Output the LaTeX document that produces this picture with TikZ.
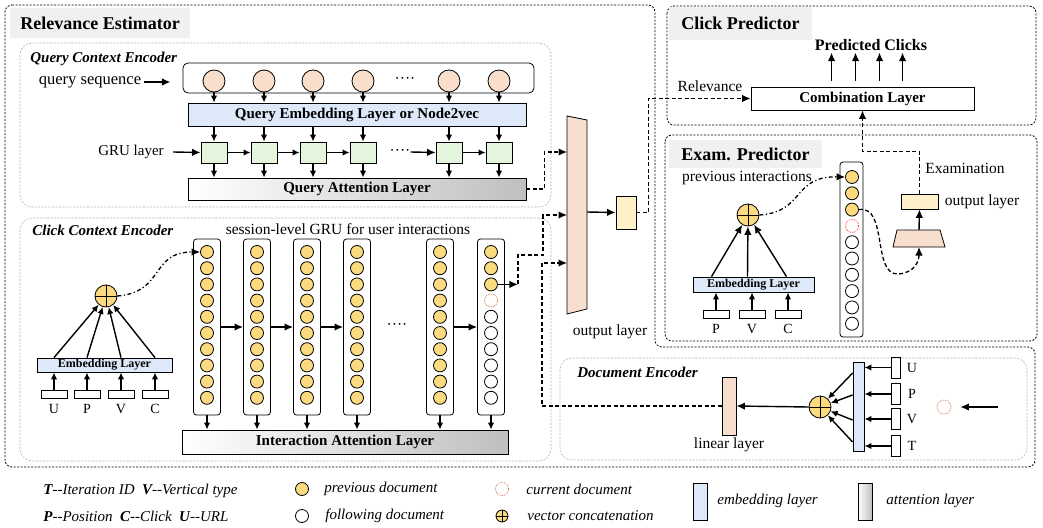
\documentclass[tikz,border=0pt]{standalone}
\usepackage{fontspec}
\setmainfont{Liberation Serif}
\usetikzlibrary{arrows.meta}
\definecolor{qpeach}{RGB}{250,222,204}
\definecolor{embblue}{RGB}{221,233,248}
\definecolor{grugreen}{RGB}{228,246,222}
\definecolor{docyellow}{RGB}{252,218,128}
\definecolor{outpeach}{RGB}{248,222,206}
\definecolor{outyellow}{RGB}{254,240,200}
\definecolor{titlegray}{RGB}{240,240,240}
\definecolor{curorange}{RGB}{205,120,80}
\newcommand{\fsz}[1]{\fontsize{#1}{#1}\selectfont}
\tikzset{
  panel/.style={draw, dash pattern=on 2pt off 1.5pt, line width=0.8pt, rounded corners=7pt},
  encbox/.style={draw=gray!60, dash pattern=on 2pt off 1.5pt, line width=0.6pt, rounded corners=12pt},
  paneltitle/.style={fill=titlegray, anchor=west, inner xsep=10pt, inner ysep=0pt, font=\bfseries\fsz{18}},
  enctitle/.style={anchor=west, inner sep=0pt, font=\bfseries\itshape\fsz{15}},
  lbl/.style={inner sep=0pt, font=\fsz{15.5}},
  layerbar/.style={draw, inner sep=0pt, font=\bfseries\fsz{15}},
  embbar/.style={layerbar, fill=embblue},
  attbar/.style={layerbar, left color=white, right color=gray!50},
  qcirc/.style={circle, draw, fill=qpeach, minimum size=22pt, inner sep=0pt},
  grucell/.style={draw, fill=grugreen, minimum width=26pt, minimum height=21pt, inner sep=0pt},
  colbox/.style={draw, rounded corners=3pt, inner sep=0pt},
  prevdoc/.style={circle, draw, fill=docyellow, minimum size=13pt, inner sep=0pt},
  nextdoc/.style={circle, draw, fill=white, minimum size=13pt, inner sep=0pt},
  curdoc/.style={circle, draw=curorange, densely dotted, minimum size=13pt, inner sep=0pt},
  curdocred/.style={curdoc, draw=red!75},
  concat/.style={circle, draw, fill=docyellow, minimum size=22pt, inner sep=0pt,
    path picture={\draw (path picture bounding box.north) -- (path picture bounding box.south)
      (path picture bounding box.west) -- (path picture bounding box.east);}},
  featbox/.style={draw, minimum width=26pt, minimum height=8pt, inner sep=0pt},
  short/.style={->, >={Latex[length=7pt,width=6.5pt]}},
  dasharrow/.style={->, dash pattern=on 4pt off 2.5pt, line width=1.3pt},
  dotdash/.style={->, dash pattern=on 4pt off 2.5pt on 1.2pt off 2.5pt, line width=1.3pt},
  every node/.append style={line width=0.8pt},
}
\begin{document}
\begin{tikzpicture}[x=1pt, y=-1pt, line width=1.4pt, >={Latex[length=8.5pt,width=7.5pt]}]
\useasboundingbox (0,0) rectangle (1043,527);

% panels
\draw[panel] (5,5) -- (655,5) -- (655,347) -- (1035,347) -- (1035,467) -- (5,467) -- cycle;
\draw[panel] (667,6) rectangle (1036,125);
\draw[panel] (665,135) rectangle (1037,341);
\draw[encbox] (20,43) rectangle (551,207);
\draw[encbox] (20,218) rectangle (551,461);
\draw[encbox] (560,358) rectangle (1027,460);

\node[paneltitle, minimum height=30pt] (retitle) at (10,23) {Relevance Estimator};
\node[paneltitle, minimum height=33pt, inner xsep=12pt] (cptitle) at (669,23.5) {Click Predictor};
\node[paneltitle, minimum height=28pt, inner xsep=12pt] (eptitle) at (669,154) {Exam. Predictor};
\node[enctitle] (qcetitle) at (30,59) {Query Context Encoder};
\node[enctitle] (ccetitle) at (32,230) {Click Context Encoder};
\node[enctitle] (detitle) at (577,372) {Document Encoder};

% query context encoder
\node[draw, rounded corners=5pt, minimum width=351pt, minimum height=30pt] (qseqbox) at (358.5,78) {};
\node[embbar, minimum width=338pt, minimum height=23pt] (qemb) at (357,114.5) {Query Embedding Layer or Node2vec};
\node[attbar, minimum width=338pt, minimum height=22pt] (qatt) at (357,189) {Query Attention Layer};
\foreach \i/\x in {1/214,2/264,3/313,4/363,5/449,6/499}{
  \node[qcirc] (q\i) at (\x,81) {};
  \node[grucell] (g\i) at (\x,152.5) {};
  \draw[short] (q\i.south) -- (q\i.south |- qemb.north);
  \draw[short] (qemb.south -| g\i.north) -- (g\i.north);
  \draw[short] (g\i.south) -- (g\i.south |- qatt.north);
}
\foreach \a/\b in {1/2,2/3,3/4,5/6}
  \draw[short] (g\a.east) -- (g\b.west);
\node[lbl] (qdots) at (405,80) {····};
\node[lbl] (gdots) at (400,152) {····};
\draw[->] (gdots.east) -- (g5.west);
\node[lbl, font=\fsz{16.5}] (qseqlbl) at (90,82) {query sequence};
\draw[->] ([xshift=3pt]qseqlbl.east) -- ++(26,0);
\node[lbl, font=\fsz{15}] (grulbl) at (131,152) {GRU layer};
\draw[->] ([xshift=9pt]grulbl.east) -- (g1.west);

% click context encoder
\node[attbar, minimum width=326pt, minimum height=24pt] (catt) at (345,442) {Interaction Attention Layer};
\node[lbl] (sesslbl) at (348,229) {session-level GRU for user interactions};
\foreach \i/\x in {1/207,2/257,3/307,4/357,5/440,6/491}{
  \node[colbox, minimum width=27pt, minimum height=176pt] (col\i) at (\x,327) {};
  \draw[short] (col\i.south) -- (col\i.south |- catt.north);
}
\foreach \i/\x in {1/207,2/257,3/307,4/357,5/440}
  \foreach \k in {0,...,9}
    \node[prevdoc] (c\i-\k) at (\x,{252+16.2*\k}) {};
\foreach \k/\s in {0/prevdoc,1/prevdoc,2/prevdoc,3/curdoc,4/nextdoc,5/nextdoc,6/nextdoc,7/nextdoc,8/nextdoc,9/nextdoc}
  \node[\s] (c6-\k) at (491,{252+16.2*\k}) {};
\foreach \a/\b in {1/2,2/3,3/4,5/6}
  \draw[->] (col\a.east) -- (col\b.west);
\node[lbl] (cdots) at (397,326) {····};

\node[embbar, font=\bfseries\fsz{12}, minimum width=135pt, minimum height=14pt] (cemb) at (104.5,365) {Embedding Layer};
\node[concat] (ccat) at (106,296) {};
\foreach \i/\x/\t in {1/54/U,2/87/P,3/121/V,4/155/C}{
  \node[featbox] (cf\i) at (\x,394.5) {};
  \node[lbl, font=\fsz{14}] (cft\i) at (\x,409) {\t};
  \draw[short] (cf\i.north) -- (cf\i.north |- cemb.south);
  \draw[short] (cemb.north -| cf\i) -- (ccat);
}
\draw[dotdash] (ccat.east) .. controls (165,292) and (150,252) .. (c1-0.west);
\coordinate (c6out) at ([xshift=20pt]c6-2.east);
\draw[->] (c6-2.east) -- (c6out);

% output layer of the relevance estimator
\draw[fill=outpeach, line width=0.8pt] (567,116) -- (587,120) -- (587,309) -- (567,314) -- cycle;
\coordinate (olin1) at (567,152);
\coordinate (olin2) at (567,215);
\coordinate (olin3) at (567,263);
\coordinate (olout) at (587,212);
\node[lbl] (ollbl) at (610,332) {output layer};
\node[draw, fill=outyellow, minimum width=20pt, minimum height=33pt, inner sep=0pt] (obox) at (626,212.5) {};
\draw[->] (olout) -- (obox.west);
\draw[dasharrow] (qatt.east) -- ++(18,0) |- (olin1);
\draw[dasharrow] (c6out) |- (543,255) |- (olin2);

% click predictor
\node[draw, fill=white, layerbar, minimum width=223pt, minimum height=23pt] (comb) at (862.5,98.5) {Combination Layer};
\node[inner sep=0pt, font=\bfseries\fsz{16}] (pclbl) at (871,45) {Predicted Clicks};
\foreach \dx in {-31,-7,17,40}
  \draw[->] ([xshift=\dx pt, yshift=6pt]comb.north) -- ++(0,-28);
\node[lbl] (rellbl) at (710,86) {Relevance};
\draw[dasharrow] (obox.east) -- ++(12,0) |- (comb.west);

% exam predictor
\node[lbl] (prevlbl) at (747,178) {previous interactions};
\node[colbox, minimum width=23pt, minimum height=175pt] (ecol) at (851.5,249.5) {};
\foreach \k/\s in {0/prevdoc,1/prevdoc,2/prevdoc,3/curdocred,4/nextdoc,5/nextdoc,6/nextdoc,7/nextdoc,8/nextdoc,9/nextdoc}
  \node[\s] (e-\k) at (852,{177+16.3*\k}) {};
\node[embbar, font=\bfseries\fsz{12}, minimum width=121pt, minimum height=15pt] (eemb) at (753.5,284.5) {Embedding Layer};
\node[concat] (ecat) at (748,215) {};
\foreach \i/\x/\t in {1/716/P,2/752/V,3/788/C}{
  \node[featbox] (ef\i) at (\x,314) {};
  \node[lbl, font=\fsz{14}] (eft\i) at (\x,329) {\t};
  \draw[short] (ef\i.north) -- (ef\i.north |- eemb.south);
}
\foreach \i/\dx in {1/-42,2/-6,3/33}
  \draw[->] ([xshift=\dx pt]eemb.north) -- (ecat);
\draw[dotdash] (ecat.east) .. controls (805,212) and (792,176) .. (e-0.west);
\draw[fill=outpeach, line width=0.8pt] (897,230) -- (940,230) -- (945,247) -- (893,247) -- cycle;
\coordinate (etrapN) at (919,230);
\coordinate (etrapS) at (919,247);
\node[draw, fill=outyellow, minimum width=37pt, minimum height=15pt, inner sep=0pt] (eobox) at (919.5,201.5) {};
\node[lbl] (eolbl) at (982,202) {output layer};
\node[lbl] (examlbl) at (965,168) {Examination};
\draw[->] (etrapN) -- (eobox.south);
\draw[dasharrow] (e-2.east) .. controls (888,205) and (872,275) .. (898,274) .. controls (914,273) and (919,262) .. (etrapS);
\draw[dasharrow] (eobox.north) -- ++(0,-42) -| (comb.south);

% document encoder
\node[draw, fill=outpeach, minimum width=14pt, minimum height=58pt, inner sep=0pt] (lin) at (729,406) {};
\node[lbl] (linlbl) at (729,445) {linear layer};
\node[concat] (dcat) at (820,407) {};
\node[draw, fill=embblue, minimum width=11pt, minimum height=89pt, inner sep=0pt] (dbar) at (858.5,406.5) {};
\draw[->] (dcat.west) -- (lin.east);
\foreach \dy in {33.5,11.5,-13.5,-35.5}
  \draw[short] ([yshift=\dy pt]dbar.west) -- (dcat);
\foreach \i/\y/\t in {1/367.5/U,2/394/P,3/419/V,4/446/T}{
  \node[draw, minimum width=9pt, minimum height=21pt, inner sep=0pt] (df\i) at (895.5,\y) {};
  \node[lbl, font=\fsz{14}] (dft\i) at (912,\y) {\t};
  \draw[short] (df\i.west) -- (df\i.west -| dbar.east);
}
\node[curdoc, minimum size=14pt] (dcur) at (944,407) {};
\draw[->] ([xshift=47pt]dcur.east) -- ([xshift=9pt]dcur.east);
\draw[dasharrow] (lin.west) -| ([xshift=-25pt]olin3) -- (olin3);

% legend
\node[anchor=west, inner sep=0pt, font=\itshape\fsz{15}] (leg1) at (43,491) {\textbf{T}-{}-Iteration ID\ \ \textbf{V}-{}-Vertical type};
\node[anchor=west, inner sep=0pt, font=\itshape\fsz{15}] (leg2) at (43,516) {\textbf{P}-{}-Position\ \ \textbf{C}-{}-Click\ \ \textbf{U}-{}-URL};
\node[prevdoc] (legprev) at (302,489) {};
\node[anchor=west, inner sep=0pt, font=\itshape\fsz{15}] (legprevt) at (324,489) {previous document};
\node[nextdoc] (legnext) at (302,516) {};
\node[anchor=west, inner sep=0pt, font=\itshape\fsz{15}] (legnextt) at (325,516) {following document};
\node[curdoc] (legcur) at (502,489) {};
\node[anchor=west, inner sep=0pt, font=\itshape\fsz{15}] (legcurt) at (526,489) {current document};
\node[concat, minimum size=12pt] (legcat) at (502,516) {};
\node[anchor=west, inner sep=0pt, font=\itshape\fsz{15}] (legcatt) at (527,516) {vector concatenation};
\node[draw, fill=embblue, minimum width=14pt, minimum height=37pt, inner sep=0pt] (legemb) at (700,501.5) {};
\node[anchor=west, inner sep=0pt, font=\itshape\fsz{15}] (legembt) at (717,501) {embedding layer};
\node[draw, left color=white, right color=gray!50, minimum width=14pt, minimum height=37pt, inner sep=0pt] (legatt) at (865,501.5) {};
\node[anchor=west, inner sep=0pt, font=\itshape\fsz{15}] (legattt) at (886,501) {attention layer};
\end{tikzpicture}
\end{document}
